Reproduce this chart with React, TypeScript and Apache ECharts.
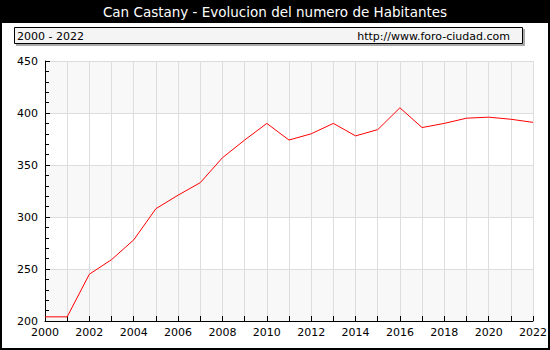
import React, { useEffect, useRef } from "react";
import * as echarts from "echarts";

const TITLE = "Can Castany - Evolucion del numero de Habitantes";
const RANGE_LABEL = "2000 - 2022";
const SOURCE = "http://www.foro-ciudad.com";

const years = [2000, 2001, 2002, 2003, 2004, 2005, 2006, 2007, 2008, 2009, 2010, 2011, 2012, 2013, 2014, 2015, 2016, 2017, 2018, 2019, 2020, 2021, 2022];
const habitantes = [204, 204, 245, 259, 278, 308, 321, 333, 357, 374, 390, 374, 380, 390, 378, 384, 405, 386, 390, 395, 396, 394, 391];

const FONT = "DejaVu Sans";

export default function App() {
  const ref = useRef<HTMLDivElement>(null);
  useEffect(() => {
    document.body.style.margin = "0";
    const chart = echarts.init(ref.current!, null, { renderer: "svg" });
    chart.setOption({
      animation: false,
      backgroundColor: "#ffffff",
      grid: { left: 45, right: 15, top: 61, bottom: 29, containLabel: false },
      xAxis: {
        type: "value",
        min: 2000,
        max: 2022,
        interval: 1,
        axisLine: { show: true, lineStyle: { color: "#000", width: 1 } },
        axisTick: { show: true, inside: true, length: 5, lineStyle: { color: "#000" } },
        axisLabel: {
          color: "#000",
          fontFamily: FONT,
          fontSize: 11,
          margin: 6,
          formatter: (v: number) => (v % 2 === 0 ? String(v) : ""),
        },
        splitLine: { show: true, lineStyle: { color: "#dddddd", width: 1 } },
      },
      yAxis: {
        type: "value",
        min: 200,
        max: 450,
        interval: 50,
        axisLine: { show: true, lineStyle: { color: "#000", width: 1 } },
        axisTick: { show: true, inside: true, length: 5, lineStyle: { color: "#000" } },
        minorTick: { show: true, splitNumber: 5, length: 4, lineStyle: { color: "#000" } },
        axisLabel: { color: "#000", fontFamily: FONT, fontSize: 11, margin: 7 },
        splitLine: { show: true, lineStyle: { color: "#dddddd", width: 1 } },
        splitArea: { show: true, areaStyle: { color: ["#f8f8f8", "#ffffff"] } },
      },
      series: [
        {
          type: "line",
          data: years.map((y, i) => [y, habitantes[i]]),
          showSymbol: false,
          symbol: "none",
          lineStyle: { color: "#ff0000", width: 1 },
          z: 5,
        },
      ],
      graphic: [
        { type: "rect", shape: { x: 0, y: 0, width: 550, height: 23 }, style: { fill: "#000" }, silent: true },
        {
          type: "text",
          x: 275,
          y: 12,
          style: { text: TITLE, fill: "#fff", font: `13.5px "${FONT}"`, textAlign: "center", textVerticalAlign: "middle" },
        },
        { type: "rect", shape: { x: 16, y: 29, width: 509, height: 17 }, style: { fill: "#aaaaaa" }, silent: true },
        { type: "rect", shape: { x: 14.5, y: 27.5, width: 508, height: 16 }, style: { fill: "#f4f4f4", stroke: "#000", lineWidth: 1 }, silent: true },
        {
          type: "text",
          x: 17,
          y: 36,
          style: { text: RANGE_LABEL, fill: "#000", font: `11px "${FONT}"`, textAlign: "left", textVerticalAlign: "middle" },
        },
        {
          type: "text",
          x: 510,
          y: 36,
          style: { text: SOURCE, fill: "#000", font: `11px "${FONT}"`, textAlign: "right", textVerticalAlign: "middle" },
        },
        { type: "rect", shape: { x: 1, y: 1, width: 548, height: 348 }, style: { fill: "none", stroke: "#000", lineWidth: 2 }, silent: true, z: 100 },
      ],
    });
    return () => chart.dispose();
  }, []);
  return <div ref={ref} style={{ width: 550, height: 350, position: "fixed", left: 0, top: 0 }} />;
}
